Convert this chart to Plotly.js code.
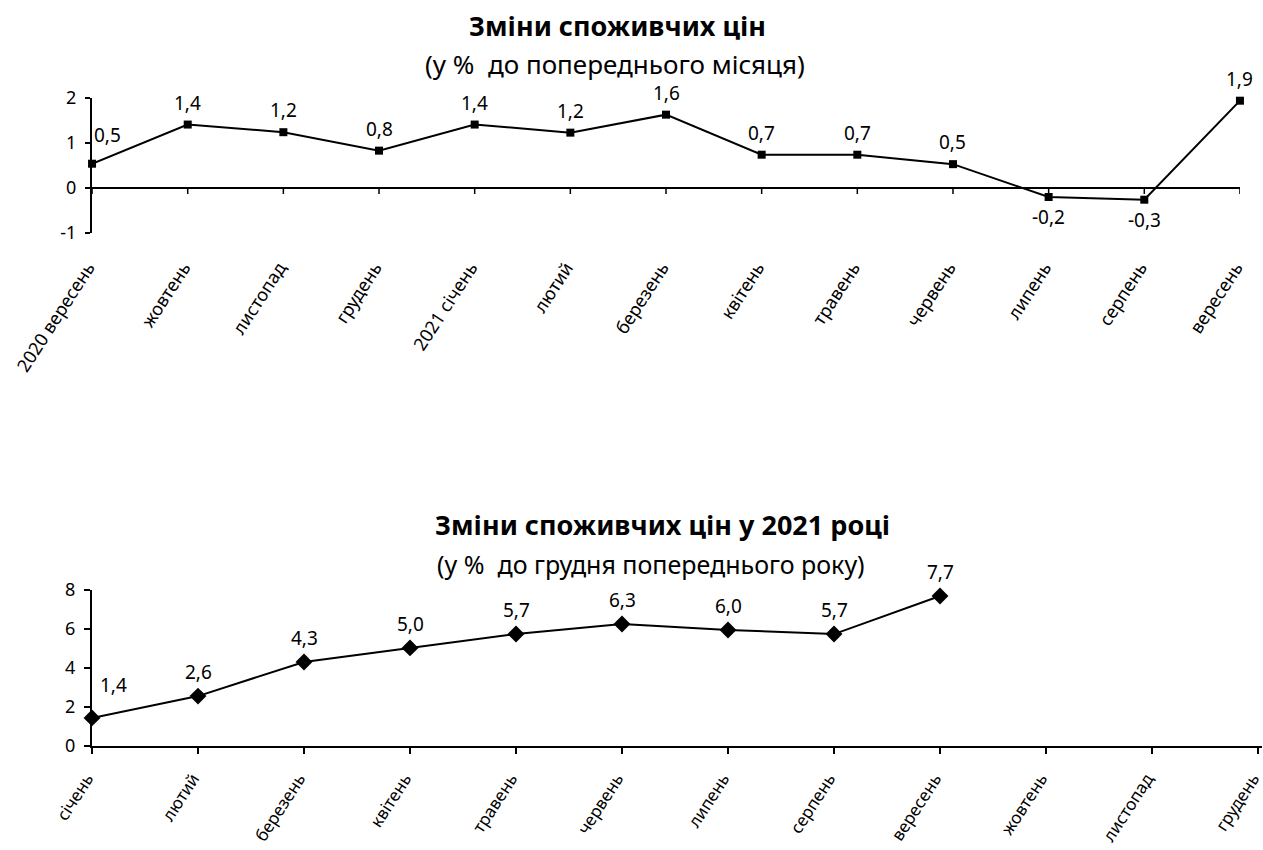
<!DOCTYPE html>
<html><head><meta charset="utf-8">
<script src="https://cdn.plot.ly/plotly-3.0.1.min.js"></script>
<style>html,body{margin:0;padding:0;background:#fff;}</style>
</head><body><div id="chart" style="width:1263px;height:850px;"></div>
<script>
const monthsTop = ['2020 вересень','жовтень','листопад','грудень','2021 січень','лютий','березень','квітень','травень','червень','липень','серпень','вересень'];
const valuesTop = [0.54,1.41,1.24,0.83,1.41,1.23,1.63,0.74,0.74,0.53,-0.2,-0.26,1.94];
const monthsBottom = ['січень','лютий','березень','квітень','травень','червень','липень','серпень','вересень','жовтень','листопад','грудень'];
const valuesBottom = [1.44,2.56,4.31,5.03,5.74,6.26,5.95,5.74,7.69];
const yTicksTop = [-1, 0, 1, 2];
const yTicksBottom = [0, 2, 4, 6, 8];
const titleTop = 'Зміни споживчих цін';
const subtitleTop = '(у %  до попереднього місяця)';
const titleBottom = 'Зміни споживчих цін у 2021 році';
const subtitleBottom = '(у %  до грудня попереднього року)';

const FONT = 'Noto Sans, Open Sans, sans-serif';
const fmt = v => v.toFixed(1).replace('.', ',');
const xTop = monthsTop.map((_, i) => i);
const xBot = monthsBottom.map((_, i) => i);

const traces = [
  {x: xTop, y: valuesTop, xaxis: 'x', yaxis: 'y', mode: 'lines+markers',
   line: {color: '#000', width: 2}, marker: {symbol: 'square', size: 8, color: '#000'},
   cliponaxis: false, hoverinfo: 'skip'},
  {x: xBot.slice(0, valuesBottom.length), y: valuesBottom, xaxis: 'x2', yaxis: 'y2', mode: 'lines+markers',
   line: {color: '#000', width: 2}, marker: {symbol: 'diamond', size: 13, color: '#000'},
   cliponaxis: false, hoverinfo: 'skip'}
];

const W = 1263, H = 850;
const x2End = 11.04;
const shapes = xTop.map(i => ({type: 'line', xref: 'x', yref: 'y', ysizemode: 'pixel', yanchor: 0,
  x0: i, x1: i, y0: 0, y1: -6, line: {color: '#000', width: 1.5}}));

const labelFont = {family: FONT, size: 19, color: '#000'};
const dataAnn = [];
valuesTop.forEach((v, i) => {
  const a = {x: i, y: v, xref: 'x', yref: 'y', text: fmt(v), showarrow: false, font: labelFont,
    xanchor: 'center', yanchor: v < 0 ? 'top' : 'bottom', yshift: v < 0 ? -5 : 7};
  if (i === 0) { a.xanchor = 'left'; a.xshift = 0; a.yshift = 14; }
  dataAnn.push(a);
});
valuesBottom.forEach((v, i) => {
  const a = {x: i, y: v, xref: 'x2', yref: 'y2', text: fmt(v), showarrow: false, font: labelFont,
    xanchor: 'center', yanchor: 'bottom', yshift: 9};
  if (i === 0) { a.xanchor = 'left'; a.xshift = 6; a.yshift = 18; }
  dataAnn.push(a);
});

const layout = {
  width: W, height: H, autosize: false,
  margin: {l: 0, r: 0, t: 0, b: 0},
  paper_bgcolor: '#fff', plot_bgcolor: 'rgba(0,0,0,0)',
  showlegend: false,
  font: {family: FONT, color: '#000'},
  xaxis: {domain: [92/W, 1240/W], range: [-0.0005, 12.0005], anchor: 'y',
    tickmode: 'array', tickvals: xTop, ticktext: monthsTop, tickangle: -57,
    showline: false, showgrid: false, zeroline: false, ticklabeloverflow: 'allow',
    ticks: 'outside', ticklen: 16, tickcolor: 'rgba(0,0,0,0)', ticklabelshift: -4,
    tickfont: {family: FONT, size: 18, color: '#000'}},
  yaxis: {domain: [1 - 233/H, 1 - 98/H], range: [-1, 2], anchor: 'x',
    tickmode: 'array', tickvals: yTicksTop, ticktext: yTicksTop.map(String),
    showline: true, linecolor: '#000', linewidth: 2, showgrid: false,
    zeroline: true, zerolinecolor: '#000', zerolinewidth: 2,
    ticks: 'outside', ticklen: 5, tickcolor: '#000', tickwidth: 1.5, ticklabelstandoff: 5,
    tickfont: {family: FONT, size: 18, color: '#000'}},
  xaxis2: {domain: [92/W, (92 + 106 * x2End)/W], range: [0, x2End], anchor: 'y2',
    tickmode: 'array', tickvals: xBot, ticktext: monthsBottom, tickangle: -57,
    showline: true, linecolor: '#000', linewidth: 2, showgrid: false, zeroline: false,
    ticklabeloverflow: 'allow', ticklabelshift: -5,
    ticks: 'outside', ticklen: 6, tickcolor: '#000', tickwidth: 1.5, ticklabelstandoff: 8,
    tickfont: {family: FONT, size: 17, color: '#000'}},
  yaxis2: {domain: [1 - 746/H, 1 - 590/H], range: [0, 8], anchor: 'x2',
    tickmode: 'array', tickvals: yTicksBottom, ticktext: yTicksBottom.map(String),
    showline: true, linecolor: '#000', linewidth: 2, showgrid: false, zeroline: false,
    ticks: 'outside', ticklen: 6, tickcolor: '#000', tickwidth: 1.5, ticklabelstandoff: 5,
    tickfont: {family: FONT, size: 18, color: '#000'}},
  shapes: shapes,
  annotations: dataAnn.concat([
    {text: '<b>' + titleTop + '</b>', xref: 'paper', yref: 'paper', x: 617/W, y: 1 - 25/H, showarrow: false,
     xanchor: 'center', yanchor: 'middle', font: {family: FONT, size: 27, color: '#000'}},
    {text: subtitleTop, xref: 'paper', yref: 'paper', x: 615/W, y: 1 - 64/H, showarrow: false,
     xanchor: 'center', yanchor: 'middle', font: {family: FONT, size: 26, color: '#000'}},
    {text: '<b>' + titleBottom + '</b>', xref: 'paper', yref: 'paper', x: 662/W, y: 1 - 524/H, showarrow: false,
     xanchor: 'center', yanchor: 'middle', font: {family: FONT, size: 27, color: '#000'}},
    {text: subtitleBottom, xref: 'paper', yref: 'paper', x: 651/W, y: 1 - 564/H, showarrow: false,
     xanchor: 'center', yanchor: 'middle', font: {family: FONT, size: 25, color: '#000'}}
  ])
};

Plotly.newPlot('chart', traces, layout, {displayModeBar: false, staticPlot: true});
</script></body></html>
